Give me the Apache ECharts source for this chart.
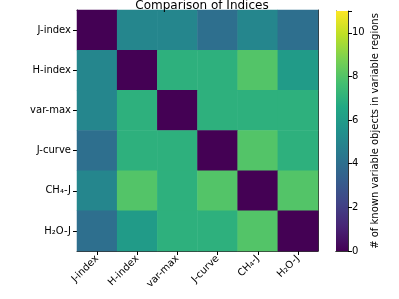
<!DOCTYPE html>
<html>
<head>
<meta charset="utf-8">
<script src="https://cdn.jsdelivr.net/npm/echarts@6/dist/echarts.min.js"></script>
<style>
html,body{margin:0;padding:0;background:#fff;}
#c{width:399px;height:299px;}
</style>
</head>
<body>
<div id="c"></div>
<script>
var categories = ['J-index', 'H-index', 'var-max', 'J-curve', 'CH\u2084-J', 'H\u2082O-J'];
var matrix = [
  [0, 5, 5, 4, 5, 4],
  [5, 0, 7, 7, 8, 6],
  [5, 7, 0, 7, 7, 7],
  [4, 7, 7, 0, 8, 7],
  [5, 8, 7, 8, 0, 8],
  [4, 6, 7, 7, 8, 0]
];
var colorMin = 0;
var colorMax = 11;
var colorTicks = [0, 2, 4, 6, 8, 10];
var viridis = ['#440154','#482475','#414487','#355f8d','#2a788e','#21918c','#22a884','#44bf70','#7ad151','#bddf26','#fde725'];

var heatData = [];
for (var r = 0; r < matrix.length; r++) {
  for (var c = 0; c < matrix[r].length; c++) {
    heatData.push([c, r, matrix[r][c]]);
  }
}
var stops = viridis.map(function (col, i) { return { offset: i / (viridis.length - 1), color: col }; });

var chart = echarts.init(document.getElementById('c'), null, { renderer: 'canvas' });
var font = 'DejaVu Sans';
var lineCol = '#333';
chart.setOption({
  animation: false,
  textStyle: { fontFamily: font },
  title: {
    text: 'Comparison of Indices',
    left: 197, top: -5, textAlign: 'center',
    textStyle: { fontFamily: font, fontSize: 12, fontWeight: 'normal', color: '#000' }
  },
  grid: [
    { left: 77, top: 10, width: 241, height: 241 },
    { left: 336, top: 11, width: 12, height: 240 }
  ],
  xAxis: [
    { type: 'category', gridIndex: 0, data: categories, position: 'bottom',
      axisLine: { show: true, lineStyle: { color: lineCol, width: 1 } },
      axisTick: { show: true, alignWithLabel: true, length: 4, lineStyle: { color: '#000' } },
      axisLabel: { rotate: 45, fontSize: 10, color: '#000', margin: 6, fontFamily: font },
      splitLine: { show: false } },
    { type: 'category', gridIndex: 0, data: categories, position: 'top',
      axisLine: { show: true, lineStyle: { color: lineCol, width: 1 } },
      axisTick: { show: false }, axisLabel: { show: false } },
    { type: 'category', gridIndex: 1, data: ['cb'], position: 'bottom',
      axisLine: { show: true, lineStyle: { color: lineCol, width: 1 } },
      axisTick: { show: false }, axisLabel: { show: false } },
    { type: 'category', gridIndex: 1, data: ['cb'], position: 'top',
      axisLine: { show: true, lineStyle: { color: lineCol, width: 1 } },
      axisTick: { show: false }, axisLabel: { show: false } }
  ],
  yAxis: [
    { type: 'category', gridIndex: 0, data: categories, inverse: true, position: 'left',
      axisLine: { show: true, lineStyle: { color: lineCol, width: 1 } },
      axisTick: { show: true, alignWithLabel: true, length: 4, lineStyle: { color: '#000' } },
      axisLabel: { fontSize: 10, color: '#000', margin: 6, fontFamily: font },
      splitLine: { show: false } },
    { type: 'category', gridIndex: 0, data: categories, inverse: true, position: 'right',
      axisLine: { show: true, lineStyle: { color: lineCol, width: 1 } },
      axisTick: { show: false }, axisLabel: { show: false } },
    { type: 'value', gridIndex: 1, min: colorMin, max: colorMax, interval: 2, position: 'right',
      axisLine: { show: true, lineStyle: { color: lineCol, width: 1 } },
      axisTick: { show: true, length: 4, lineStyle: { color: '#000' } },
      axisLabel: { fontSize: 10, color: '#000', margin: 4, fontFamily: font,
        customValues: colorTicks },
      splitLine: { show: false },
      name: '# of known variable objects in variable regions',
      nameLocation: 'middle', nameRotate: 90, nameGap: 22,
      nameTextStyle: { fontSize: 10, color: '#000', fontFamily: font } },
    { type: 'value', gridIndex: 1, min: colorMin, max: colorMax, position: 'left',
      axisLine: { show: true, lineStyle: { color: lineCol, width: 1 } },
      axisTick: { show: false }, axisLabel: { show: false }, splitLine: { show: false } }
  ],
  visualMap: {
    show: false, type: 'continuous', min: colorMin, max: colorMax,
    seriesIndex: 0, inRange: { color: viridis }
  },
  series: [
    { type: 'heatmap', xAxisIndex: 0, yAxisIndex: 0, data: heatData,
      itemStyle: { borderWidth: 0 }, emphasis: { disabled: true } },
    { type: 'bar', xAxisIndex: 2, yAxisIndex: 2, data: [colorMax], barWidth: '100%',
      itemStyle: { color: new echarts.graphic.LinearGradient(0, 1, 0, 0, stops) },
      emphasis: { disabled: true }, silent: true }
  ]
});
</script>
</body>
</html>
